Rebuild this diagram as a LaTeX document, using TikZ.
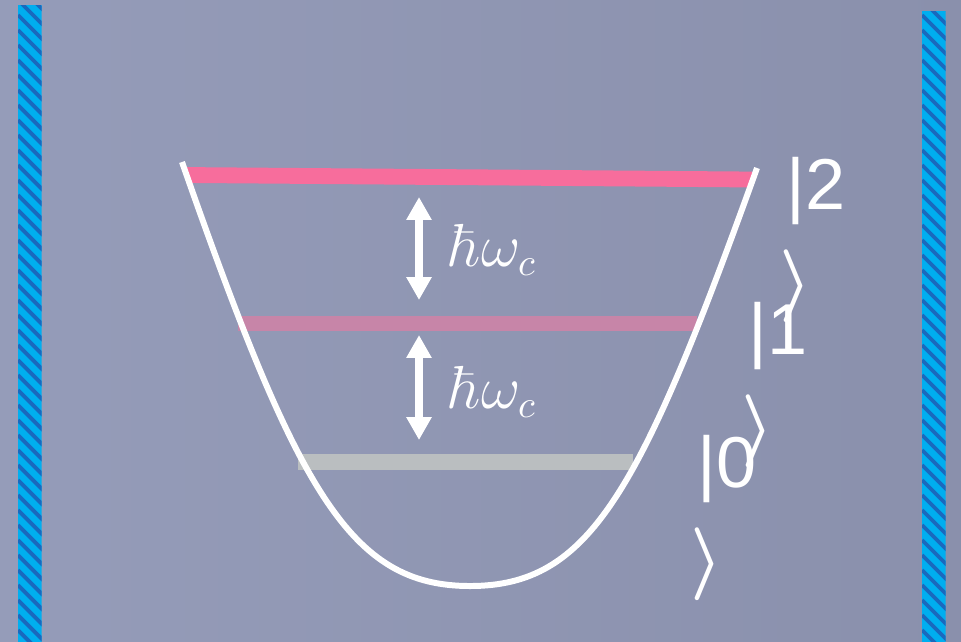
\documentclass[tikz,border=0pt]{standalone}
\usepackage{fontspec}
\setsansfont{Liberation Sans}
\usetikzlibrary{arrows.meta}

\definecolor{bgleft}{RGB}{149,156,185}
\definecolor{bgright}{RGB}{138,144,172}
\definecolor{wallcyan}{RGB}{0,174,239}
\definecolor{wallblue}{RGB}{25,105,190}
\definecolor{levtwo}{RGB}{247,109,156}
\definecolor{levone}{RGB}{199,133,168}
\definecolor{levzero}{RGB}{186,190,192}

\begin{document}
\begin{tikzpicture}
[
	x=0.01cm, y=-0.01cm,
	level/.style={line width=4.5pt},
	well/.style={white,line width=1.7pt},
	gap/.style={white,line width=2.3pt,{Triangle[width=6.8pt,length=6.5pt]}-{Triangle[width=6.8pt,length=6.5pt]}},
	quantum/.style={white,font=\fontsize{16}{19}\selectfont},
	ket/.style={white,anchor=north west,inner sep=0pt,align=left,font=\fontsize{20.5}{25.3}\selectfont\sffamily}
]

	% background
	\useasboundingbox (0,0) rectangle (961,641);
	\shade[left color=bgleft,right color=bgright] (0,0) rectangle (961,641);

	% cavity mirrors
	\foreach \wx/\wy in {18/5,922/11}
	{
		\begin{scope}
			\clip (\wx,\wy) rectangle ++(23.5,650);
			\fill[wallcyan] (\wx,\wy) rectangle ++(23.5,650);
			\foreach \s in {-30,-15,...,660}
				\draw[wallblue,line width=1.1pt] (\wx,\s) -- ++(30,30);
		\end{scope}
	}

	% energy levels
	\draw[level,levtwo] (187,175) -- (752,179.5);
	\draw[level,levone] (238,323.5) -- (697,323.5);
	\draw[level,levzero] (298,462) -- (633,462);

	% potential well
	\draw[well] (182,162) .. controls (297.5,492) and (350,586) .. (470,586)
		.. controls (590,586) and (640,493) .. (757,168);

	% level spacing
	\coordinate (g2top) at (419,197);
	\coordinate (g2bot) at (419,300);
	\coordinate (g1top) at (419,335);
	\coordinate (g1bot) at (419,440);
	\draw[gap] (g2top) -- (g2bot);
	\draw[gap] (g1top) -- (g1bot);
	\node[quantum] (hw2) at (494,250) {$\hbar\omega_c$};
	\node[quantum] (hw1) at (494,392) {$\hbar\omega_c$};

	% state labels
	\node[ket] (ket2) at (786,157) {|2\\[1.5pt]\hspace*{-2pt}{\boldmath$\rangle$}};
	\node[ket] (ket1) at (748,302) {|1\\[1.5pt]\hspace*{-2pt}{\boldmath$\rangle$}};
	\node[ket] (ket0) at (697,435) {|0\\[1.5pt]\hspace*{-2pt}{\boldmath$\rangle$}};

\end{tikzpicture}
\end{document}
